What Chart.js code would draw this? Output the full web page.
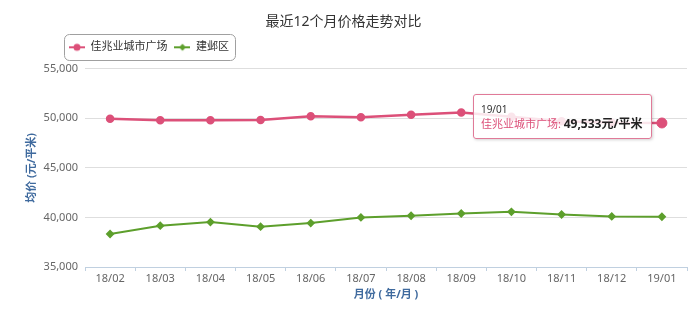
<!DOCTYPE html>
<html>
<head>
<meta charset="utf-8">
<script src="https://cdn.jsdelivr.net/npm/chart.js@4.4.1/dist/chart.umd.min.js"></script>
<style>
  html, body { margin: 0; padding: 0; background: #fff; }
  #wrap { position: relative; width: 700px; height: 316px; }
  #tip {
    position: absolute; display: none; white-space: nowrap;
    background: rgba(255, 255, 255, 0.85);
    border: 1px solid #e07a98; border-radius: 3px;
    box-shadow: 1px 1px 3px rgba(0, 0, 0, 0.18);
    padding: 8px 9px 6px 7px;
    font-family: "Noto Sans", "Noto Sans CJK SC", sans-serif;
  }
  #tip .t { font-size: 10px; line-height: 13px; color: #333; }
  #tip .b { font-size: 11px; line-height: 16px; }
  #tip .b b { font-size: 12px; color: #222; }
</style>
</head>
<body>
<div id="wrap">
  <canvas id="priceChart" width="700" height="316"></canvas>
  <div id="tip"></div>
</div>
<script>
const TITLE = "最近12个月价格走势对比";
const months = ["18/02", "18/03", "18/04", "18/05", "18/06", "18/07", "18/08", "18/09", "18/10", "18/11", "18/12", "19/01"];
const seriesNames = ["佳兆业城市广场", "建邺区"];
// 元/平米
const jzyPrices = [49950, 49800, 49800, 49830, 50200, 50100, 50370, 50600, 50150, 49700, 49550, 49533];
const jyqPrices = [38330, 39170, 39530, 39070, 39430, 40000, 40170, 40400, 40570, 40300, 40100, 40070];
const yTicks = [35000, 40000, 45000, 50000, 55000];

const RED = "#dc5079";
const GREEN = "#5d9f2c";
const BLUE = "#3f6a9e";
const FONT = "'Noto Sans', 'Noto Sans CJK SC', sans-serif";

Chart.defaults.font.family = FONT;

// little line + marker images for the legend
function legendMarker(color, shape) {
  const c = document.createElement("canvas");
  c.width = 16; c.height = 10;
  const g = c.getContext("2d");
  g.strokeStyle = color; g.lineWidth = 2;
  g.beginPath(); g.moveTo(0, 5); g.lineTo(16, 5); g.stroke();
  g.fillStyle = color;
  g.beginPath();
  if (shape === "circle") {
    g.arc(8, 5, 3.5, 0, Math.PI * 2);
  } else {
    g.moveTo(8, 1.5); g.lineTo(11.5, 5); g.lineTo(8, 8.5); g.lineTo(4.5, 5); g.closePath();
  }
  g.fill();
  return c;
}
const markers = [legendMarker(RED, "circle"), legendMarker(GREEN, "diamond")];

const legendFrame = {
  id: "legendFrame",
  afterLayout(chart) {
    const lg = chart.legend;
    lg.left += 62; lg.right += 62;
    lg.top -= 6; lg.bottom -= 6;
  },
  afterDraw(chart) {
    const boxes = chart.legend.legendHitBoxes;
    if (!boxes || !boxes.length) return;
    const first = boxes[0], last = boxes[boxes.length - 1];
    const cy = first.top + first.height / 2;
    const x0 = first.left - 5, x1 = last.left + last.width + 6;
    const c = chart.ctx;
    c.save();
    c.strokeStyle = "#a0a0a0";
    c.lineWidth = 1;
    c.beginPath();
    c.roundRect(Math.round(x0) + 0.5, Math.round(cy - 13) + 0.5, Math.round(x1 - x0), 26, 5);
    c.stroke();
    c.restore();
  }
};

function showTip({ chart, tooltip }) {
  const el = document.getElementById("tip");
  if (tooltip.opacity === 0 || !tooltip.dataPoints) { el.style.display = "none"; return; }
  const dp = tooltip.dataPoints[0];
  el.innerHTML = '<div class="t">' + dp.label + '</div>' +
    '<div class="b"><span style="color:' + dp.dataset.borderColor + '">' + dp.dataset.label + ': </span>' +
    '<b>' + dp.raw.toLocaleString("en-US") + '元/平米</b></div>';
  el.style.display = "block";
  el.style.left = (tooltip.caretX - 9 - el.offsetWidth) + "px";
  el.style.top = (tooltip.caretY - 29) + "px";
}

const ctx = document.getElementById("priceChart").getContext("2d");
const chart = new Chart(ctx, {
  type: "line",
  data: {
    labels: months,
    datasets: [
      {
        label: seriesNames[0],
        data: jzyPrices,
        borderColor: RED,
        backgroundColor: RED,
        borderWidth: 2.5,
        pointStyle: "circle",
        pointRadius: 3,
        pointHoverRadius: 5,
        pointHoverBorderWidth: 1,
        pointHoverBackgroundColor: RED,
        pointHoverBorderColor: RED,
        tension: 0,
      },
      {
        label: seriesNames[1],
        data: jyqPrices,
        borderColor: GREEN,
        backgroundColor: GREEN,
        borderWidth: 2,
        pointStyle: "rectRot",
        pointRadius: 3,
        tension: 0,
      },
    ],
  },
  options: {
    responsive: false,
    animation: false,
    events: [],
    layout: { padding: { left: 0, right: 13, top: 0, bottom: 0 } },
    plugins: {
      title: {
        display: true,
        text: TITLE,
        color: "#333",
        font: { size: 14, weight: "normal" },
        padding: { top: 14, bottom: 10 },
      },
      legend: {
        align: "start",
        labels: {
          color: "#333",
          font: { size: 11 },
          padding: 7,
          usePointStyle: true,
          pointStyleWidth: 16,
          generateLabels(chart) {
            const items = Chart.defaults.plugins.legend.labels.generateLabels(chart);
            items.forEach((it, i) => { it.pointStyle = markers[i]; });
            return items;
          },
        },
      },
      tooltip: { enabled: false, external: showTip },
    },
    scales: {
      x: {
        offset: true,
        grid: { drawOnChartArea: false, offset: true, tickLength: 4, color: "#c0d0e0" },
        border: { color: "#c0d0e0" },
        ticks: { color: "#666", font: { size: 11 }, padding: 1, maxRotation: 0, autoSkip: false },
        title: {
          display: true,
          text: "月份 ( 年/月 )",
          color: BLUE,
          font: { size: 11, weight: "bold" },
          padding: { top: 0, bottom: 15 },
        },
        afterFit(s) { s.height = 49; },
      },
      y: {
        min: 35000,
        max: 55000,
        afterBuildTicks(s) { s.ticks = yTicks.map(v => ({ value: v })); },
        ticks: {
          color: "#666",
          font: { size: 11 },
          padding: 7,
          callback: v => v.toLocaleString("en-US"),
        },
        grid: { color: "#dedede", drawTicks: false },
        border: { display: false },
        title: {
          display: true,
          text: "均价 (元/平米)",
          color: BLUE,
          font: { size: 11, weight: "bold" },
          padding: { top: 25, bottom: 0 },
        },
        afterFit(s) { s.width = 85; },
      },
    },
  },
  plugins: [legendFrame],
});

const active = [{ datasetIndex: 0, index: months.length - 1 }];
chart.setActiveElements(active);
const pt = chart.getDatasetMeta(0).data[months.length - 1];
chart.tooltip.setActiveElements(active, { x: pt.x, y: pt.y });
chart.draw();
</script>
</body>
</html>
